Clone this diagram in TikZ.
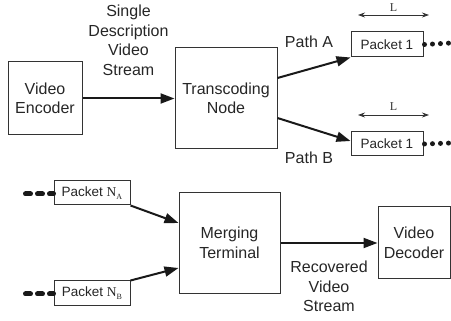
\documentclass[tikz,border=0pt]{standalone}
\usepackage{fontspec}
\setmainfont{Liberation Sans}
\newfontfamily\seriffont{Liberation Serif}
\usetikzlibrary{arrows.meta,positioning}
\tikzset{
  box/.style={draw=black!80, line width=1pt, align=center, inner sep=0pt,
    font=\fontsize{16}{19.5}\selectfont, text=black!85},
  pkt/.style={draw=black!80, line width=1pt, minimum width=72pt, minimum height=25pt,
    inner sep=0pt, font=\fontsize{13.5}{16}\selectfont, text=black!85},
  arr/.style={line width=2pt, black!90, -{Triangle[length=14pt,width=10pt]}},
  lbl/.style={align=center, font=\fontsize{16}{19.5}\selectfont, text=black!85},
  dots/.style={line width=5pt, black!90, line cap=round, dash pattern=on 0pt off 8pt},
  dashes/.style={line width=5pt, black!90, line cap=round, dash pattern=on 5pt off 7pt},
  len/.style={line width=0.8pt, black!80,
    {Stealth[length=7pt,width=5pt]}-{Stealth[length=7pt,width=5pt]}}
}
\newcommand{\pktN}[1]{{\seriffont N}\raisebox{-3pt}{\seriffont\fontsize{8}{8}\selectfont #1}}
\begin{document}
\begin{tikzpicture}[x=1pt,y=-1pt]
        \useasboundingbox (0,0) rectangle (451,321);
        \node[box, minimum width=74pt, minimum height=73pt] (enc) at (45,98.5) {Video\\Encoder};
        \node[box, minimum width=102pt, minimum height=101pt] (trans) at (226,98.5) {Transcoding\\Node};
        \node[pkt] (pktA) at (387,44.5) {Packet 1};
        \node[pkt, minimum height=24pt] (pktB) at (387,144) {Packet 1};
        \node[pkt, minimum width=76pt, minimum height=24pt] (na) at (92,193) {Packet \pktN{A}};
        \node[pkt, minimum width=76pt] (nb) at (92,293.5) {Packet \pktN{B}};
        \node[box, minimum width=101pt, minimum height=101pt] (merge) at (229.5,243) {Merging\\Terminal};
        \node[box, minimum width=72pt, minimum height=72pt] (dec) at (414,243) {Video\\Decoder};

        \draw[arr] (enc) -- node[lbl, above=19pt] {Single\\Description\\Video\\Stream} (trans);
        \draw[arr] ([yshift=20.5pt]trans.east) -- (pktA.south west);
        \draw[arr] ([yshift=-19.5pt]trans.east) -- ([yshift=3pt]pktB.west);
        \node[lbl] (pathA) at (309,42) {Path A};
        \node[lbl] (pathB) at (309,158) {Path B};

        \coordinate (lA1) at (358,15);
        \coordinate (lA2) at (429,15);
        \draw[len] (lA1) -- node[above=0pt, font=\seriffont\fontsize{12}{12}\selectfont] {L} (lA2);
        \coordinate (lB1) at (358,115);
        \coordinate (lB2) at (429,115);
        \draw[len] (lB1) -- node[above=1pt, font=\seriffont\fontsize{12}{12}\selectfont] {L} (lB2);

        \coordinate (endA) at (451,43);
        \coordinate (endB) at (451,143);
        \draw[dots] ([xshift=1pt]pktA.east) -- (endA);
        \draw[dots] ([xshift=1pt]pktB.east) -- (endB);
        \coordinate (startA) at (25.5,194);
        \coordinate (startB) at (25.5,294);
        \draw[dashes] (startA) -- ([yshift=-1pt]na.west);
        \draw[dashes] (startB) -- ([yshift=-0.5pt]nb.west);

        \draw[arr] (na.south east) -- ([yshift=20pt]merge.west);
        \draw[arr] (nb.north east) -- ([yshift=-25pt]merge.west);
        \draw[arr] (merge) -- node[lbl, below=14pt] {Recovered\\Video\\Stream} (dec);
\end{tikzpicture}
\end{document}
